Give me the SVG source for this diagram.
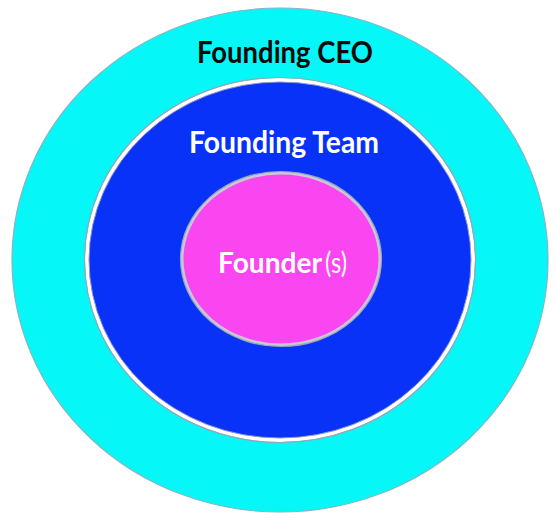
<svg xmlns="http://www.w3.org/2000/svg" width="556" height="529" viewBox="0 0 556 529">
<style>
.lbl{font-family:Lato,"Open Sans","Liberation Sans",sans-serif;font-size:30px;font-weight:bold}
.ring{stroke:#ffffff;stroke-width:4}
.edge{fill:none;stroke:#9aa3b8;stroke-width:1.2}
</style>
<rect width="556" height="529" fill="#ffffff"/>
<g id="ceo">
<ellipse cx="280" cy="260" rx="268" ry="252" fill="#05F7F7" stroke="#7fb8c8" stroke-width="1.2"/>
<text class="lbl" x="285" y="63" text-anchor="middle" fill="#0a0a0a" textLength="176" lengthAdjust="spacingAndGlyphs">Founding CEO</text>
</g>
<g id="team">
<ellipse cx="280" cy="260" rx="193" ry="180" fill="#0832F8" class="ring"/>
<ellipse cx="280" cy="260" rx="195.5" ry="182.5" class="edge"/>
<ellipse cx="280" cy="260" rx="191" ry="178" fill="none" stroke="#8a94c8" stroke-width="1"/>
<text class="lbl" x="284" y="153" text-anchor="middle" fill="#ffffff" textLength="190" lengthAdjust="spacingAndGlyphs">Founding Team</text>
</g>
<g id="founders">
<ellipse cx="281" cy="259" rx="99" ry="86" fill="#FA46F0" stroke="#c8c8d8" stroke-width="3"/>
<ellipse cx="281" cy="259" rx="100.5" ry="87.5" class="edge"/>
<text class="lbl" x="218" y="273" fill="#ffffff" style="font-size:28px" textLength="104" lengthAdjust="spacingAndGlyphs">Founder</text>
<text class="lbl" x="325" y="273" fill="#ffffff" style="font-size:29px;font-weight:normal" textLength="22" lengthAdjust="spacingAndGlyphs">(s)</text>
</g>
<g id="connectors"/>
</svg>
